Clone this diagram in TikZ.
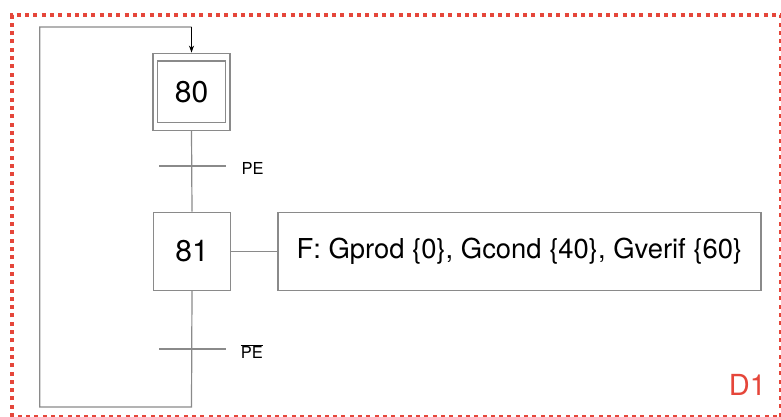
\documentclass[tikz,border=0pt]{standalone}
\usepackage{fontspec}
\setmainfont{TeX Gyre Heros}
\usetikzlibrary{arrows.meta}
\definecolor{redb}{HTML}{E5463A}
\definecolor{ln}{HTML}{8A8A8A}
\tikzset{
  stepbox/.style={draw=ln, line width=1.2pt, minimum width=77pt, minimum height=78pt, inner sep=0pt, font=\fontsize{30}{34}\selectfont},
  actbox/.style={draw=ln, line width=1.2pt, minimum width=483pt, minimum height=78pt, inner sep=0pt, font=\fontsize{27.4}{32}\selectfont},
  wire/.style={draw=ln, line width=1.2pt},
  tlabel/.style={anchor=west, inner sep=0pt, font=\fontsize{16.5}{20}\selectfont}
}
\begin{document}
\begin{tikzpicture}[x=1pt,y=-1pt]
\useasboundingbox (0,0) rectangle (781,417);
\begin{scope}
\clip (0,0) rectangle (781,417);
\draw[redb, line width=4pt, dash pattern=on 4pt off 4.3pt] (12,417) -- (12,15) -- (781,15) -- (781,417) -- cycle;
\end{scope}
% step 80 (initial)
\node[stepbox, minimum height=77pt] (s80) at (191.5,91.7) {80};
\node[draw=ln, line width=1.2pt, minimum width=67.6pt, minimum height=61.7pt, inner sep=0pt] (s80i) at (191.5,91.8) {};
% step 81
\node[stepbox] (s81) at (192,251.2) {};
\node[font=\fontsize{30}{34}\selectfont] at (s81) {81};
% action
\node[actbox, anchor=west] (act) at (277.3,251.2) {F: Gprod \{0\}, Gcond \{40\}, Gverif \{60\}};
\draw[wire] (s81.east) -- (act.west);
% links
\coordinate (t1) at (191.5,166);
\coordinate (t2) at (191.5,349);
\coordinate (bot) at (191.5,407);
\coordinate (bl) at (39.7,407);
\coordinate (tl) at (39.7,27);
\coordinate (top) at (191.5,27);
\draw[wire] (s80.south) -- (s81.north);
\draw[wire] (s81.south) -- (bot) -- (bl) -- (tl) -- (top);
\draw[black, line width=1.2pt, -{Stealth[length=7pt,width=5pt]}] (top) -- (s80.north);
% transitions
\draw[wire] ([xshift=-32.5pt]t1) -- ([xshift=34pt]t1);
\draw[wire] ([xshift=-32.5pt]t2) -- ([xshift=34pt]t2);
\node[tlabel] (l1) at (241.5,168.5) {PE};
\node[tlabel] (l2) at (240.7,351.5) {$\overline{\mbox{PE}}$};
% label
\node[text=redb, font=\fontsize{29}{34}\selectfont, inner sep=0pt] (d1) at (747.5,384.5) {D1};
\end{tikzpicture}
\end{document}
